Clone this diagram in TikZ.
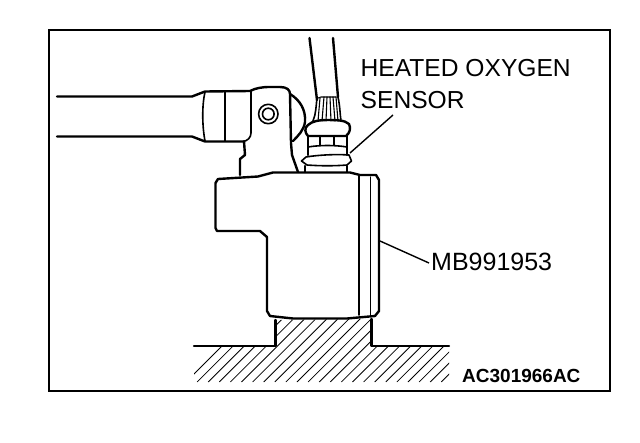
\documentclass[tikz,border=0pt]{standalone}
\usepackage{fontspec}
\setmainfont{Liberation Sans}
\tikzset{
 thick line/.style={line width=2.4pt,line join=round,line cap=round},
 mid line/.style={line width=1.6pt,line join=round,line cap=round},
 thin line/.style={line width=1.1pt,line cap=round},
 hatch line/.style={line width=0.8pt},
 label text/.style={inner sep=0pt,anchor=base west,font=\fontsize{24.6}{24.6}\selectfont},
 code text/.style={inner sep=0pt,anchor=base west,font=\fontsize{19}{19}\selectfont\bfseries}
}
\begin{document}
\begin{tikzpicture}[x=1pt,y=-1pt]
\useasboundingbox (0,0) rectangle (640,442);
\fill[white] (0,0) rectangle (640,442);
\draw[line width=2pt] (49,30) rectangle (610,390.5);
% hatching
\begin{scope}
\clip (194,347) -- (275,347) -- (275,320) -- (372,319) -- (372,347) -- (449,347) -- (449,382) -- (194,382) -- cycle;
\foreach \i in {0,...,28} {
  \draw[hatch line] ({186+11.1*\i},382) -- ++(70,-70);
}
\end{scope}
\draw[thick line] (194,346) -- (275.5,346) -- (275.5,320);
\draw[thick line] (449,346) -- (371.5,346) -- (371.5,319);
% handle
\draw[thick line] (57,96.5) -- (192,96.5) -- (205,91.5) -- (250,91) .. controls (256,88) and (262,87) .. (270,87) -- (280,87) .. controls (287,87) and (290,90) .. (290,94) -- (291,143) -- (292,155) -- (298,172);
\draw[thick line] (57,136.5) -- (192,136.5) -- (205,141.5) -- (244,141.5);
\draw[mid line] (251,91) -- (251,133) .. controls (251,138) and (247,141) .. (243,141.5);
\draw[thick line] (244,141.5) -- (245,155) -- (240,159) -- (240,175);
\draw[mid line] (205,92) .. controls (202,105) and (202,125) .. (205,141);
\draw[mid line] (225,92) -- (225,141);
\draw[thick line] (290,94) .. controls (300,100) and (306,110) .. (305,122) .. controls (304,130) and (298,136) .. (293,141);
\draw[mid line] (268.3,114) circle [radius=9.7];
\draw[mid line] (268.3,114) circle [radius=5.8];
% sensor
\draw[thick line] (309.5,38) -- (317,100);
\draw[thick line] (333,38) -- (338,97);
\draw[mid line] (317,98) .. controls (316,106) and (316,114) .. (313,121);
\draw[mid line] (338,97) .. controls (340,106) and (340,114) .. (341,121);
\draw[thin line] (318,98) -- (321,97) -- (336,97);
\draw[thin line] (320,98) -- (318,121);
\draw[thin line] (324,97) -- (322,121);
\draw[thin line] (327,97) -- (326,121);
\draw[thin line] (330,97) -- (331,121);
\draw[thin line] (333,97) -- (335,121);
\draw[thin line] (336,97) -- (338,121);
\draw[thick line] (308,125) .. controls (312,121) and (320,120) .. (326,120) .. controls (336,120) and (345,120) .. (349,124) .. controls (351,128) and (350,133) .. (346,136) -- (308,136) .. controls (305,133) and (304,128) .. (308,125);
\draw[thick line] (308,136) -- (308,155);
\draw[thick line] (347,136) -- (347,155);
\draw[thin line] (320,136) -- (320,145);
\draw[thin line] (334,136) -- (334,145);
\draw[mid line] (308,147) .. controls (320,145) and (335,145) .. (347,147);
\draw[mid line] (306,157) .. controls (318,155) and (336,154) .. (349,155) -- (351.5,161) -- (347,165) .. controls (335,166) and (320,166) .. (307,165) -- (301.5,161) -- cycle;
\draw[thick line] (305,166) -- (305,172);
\draw[thick line] (347,166) -- (347,172);
% body
\draw[thick line] (218,179) -- (258,176.5) -- (273,172.5) -- (350,172.5) -- (360,175) -- (376,175) -- (379,180) -- (379,311) -- (375,316) -- (347,318.5) -- (293,318.5) -- (270,316) -- (267,311) -- (267,237) -- (260,231) -- (217,231) -- (215.5,228) -- (215.5,183) -- cycle;
\draw[mid line] (359,176) -- (359,315);
\draw[thin line] (370.5,177) -- (370.5,315);
% labels
\node[label text] (sensorA) at (360.5,76) {HEATED OXYGEN};
\node[label text] (sensorB) at (360.5,108) {SENSOR};
\node[label text,font=\fontsize{25}{25}\selectfont] (tool) at (431,270) {MB991953};
\node[code text] (code) at (462,382) {AC301966AC};
\coordinate (sensorTip) at (350,153);
\coordinate (sensorEnd) at (393,115);
\coordinate (toolTip) at (380,241);
\coordinate (toolEnd) at (429,263);
\draw[line width=1.4pt] (sensorEnd) -- (sensorTip);
\draw[line width=1.4pt] (toolEnd) -- (toolTip);
\end{tikzpicture}
\end{document}
